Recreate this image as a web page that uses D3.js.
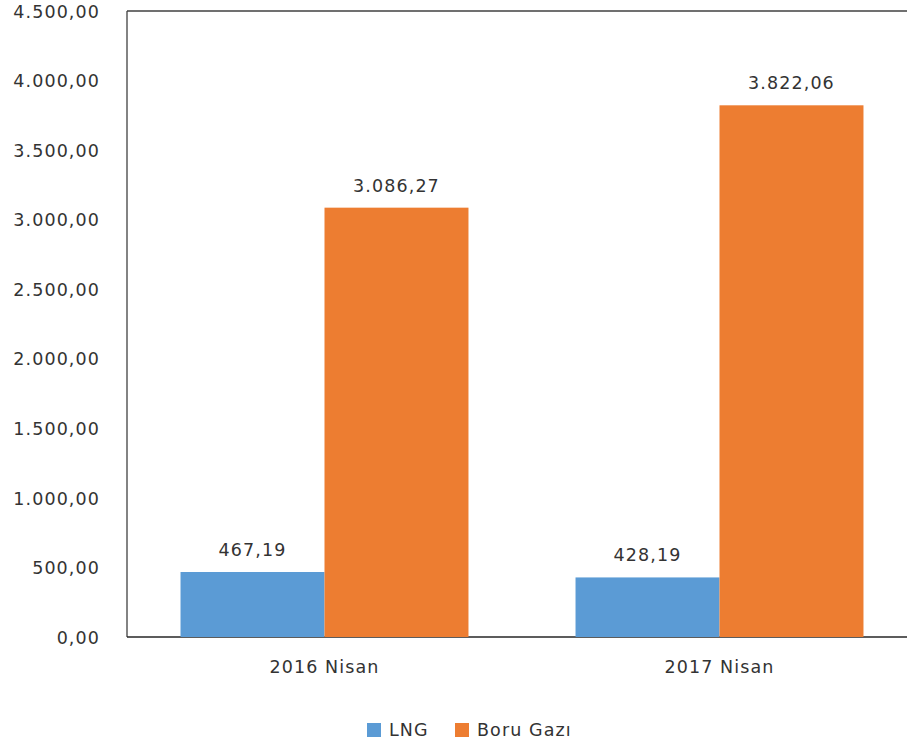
<!DOCTYPE html>
<html>
<head>
<meta charset="utf-8">
<script src="https://cdn.jsdelivr.net/npm/d3@7"></script>
<style>
  body { margin: 0; background: #fff; }
  text { font-family: "DejaVu Sans", Verdana, sans-serif; fill: #333; }
</style>
</head>
<body>
<div id="chart"></div>
<script>
// data
let categories = ["2016 Nisan", "2017 Nisan"];
let seriesNames = ["LNG", "Boru Gazı"];
let lngValues = [467.19, 428.19];
let boruValues = [3086.27, 3822.06];
let yTicks = [0, 500, 1000, 1500, 2000, 2500, 3000, 3500, 4000, 4500];

let colors = ["#5B9BD5", "#ED7D31"];

let width = 907, height = 749;
let plot = {left: 127, right: 917, top: 11, bottom: 637};

let svg = d3.select("#chart").append("svg")
    .attr("width", width)
    .attr("height", height);

// turkish number format: 4.500,00
let trLocale = d3.formatLocale({decimal: ",", thousands: ".", grouping: [3], currency: ["", ""]});
let fmt = trLocale.format(",.2f");

let y = d3.scaleLinear().domain([0, 4500]).range([plot.bottom, plot.top]);
let x0 = d3.scaleBand().domain(categories).range([plot.left, plot.right])
    .paddingInner(0.271).paddingOuter(0.1355);
let x1 = d3.scaleBand().domain(seriesNames).range([0, x0.bandwidth()]);

let rows = categories.map((c, i) => ({cat: c, values: [lngValues[i], boruValues[i]]}));

// y axis labels
let yAxis = d3.axisLeft(y).tickValues(yTicks).tickFormat(fmt).tickSize(0).tickPadding(27);
let yG = svg.append("g").attr("transform", "translate(" + plot.left + ",0)").call(yAxis);
yG.select(".domain").remove();
yG.selectAll("text")
    .style("font-size", "17.5px")
    .style("letter-spacing", "1.1px")
    .attr("dy", "0.35em");

// frame lines: left and top
svg.append("line")
    .attr("x1", plot.left).attr("x2", plot.left)
    .attr("y1", plot.top).attr("y2", plot.bottom)
    .attr("stroke", "#5a5a5a").attr("stroke-width", 1.5);
svg.append("line")
    .attr("x1", plot.left).attr("x2", width)
    .attr("y1", plot.top).attr("y2", plot.top)
    .attr("stroke", "#404040").attr("stroke-width", 1.5);

// bars
let groups = svg.selectAll(".grp").data(rows).enter().append("g")
    .attr("class", "grp")
    .attr("transform", d => "translate(" + x0(d.cat) + ",0)");

groups.selectAll("rect")
    .data(d => d.values.map((v, i) => ({name: seriesNames[i], value: v, idx: i})))
    .enter().append("rect")
    .attr("x", d => x1(d.name))
    .attr("width", x1.bandwidth())
    .attr("y", d => y(d.value))
    .attr("height", d => y(0) - y(d.value))
    .attr("fill", d => colors[d.idx]);

groups.selectAll(".lbl")
    .data(d => d.values.map((v, i) => ({name: seriesNames[i], value: v})))
    .enter().append("text")
    .attr("class", "lbl")
    .attr("x", d => x1(d.name) + x1.bandwidth() / 2)
    .attr("y", d => y(d.value) - 16)
    .attr("text-anchor", "middle")
    .style("font-size", "17.5px")
    .style("letter-spacing", "1.1px")
    .text(d => fmt(d.value));

// x axis
let xAxis = d3.axisBottom(x0).tickSize(0).tickPadding(24);
let xG = svg.append("g").attr("transform", "translate(0," + plot.bottom + ")").call(xAxis);
xG.select(".domain").remove();
xG.selectAll("text")
    .style("font-size", "17.5px")
    .style("letter-spacing", "1.1px");
svg.append("line")
    .attr("x1", plot.left).attr("x2", width)
    .attr("y1", plot.bottom).attr("y2", plot.bottom)
    .attr("stroke", "#262626").attr("stroke-width", 1.5);
svg.select(".grp").raise();
svg.selectAll(".grp").raise();

// legend
let legend = svg.append("g").attr("class", "legend");
let legendX = [367, 455];
seriesNames.forEach((name, i) => {
    legend.append("rect")
        .attr("x", legendX[i]).attr("y", 723)
        .attr("width", 14).attr("height", 14)
        .attr("fill", colors[i]);
    legend.append("text")
        .attr("x", legendX[i] + 22).attr("y", 730)
        .attr("dy", "0.35em")
        .style("font-size", "17.5px")
        .style("letter-spacing", "1.1px")
        .text(name);
});
</script>
</body>
</html>
